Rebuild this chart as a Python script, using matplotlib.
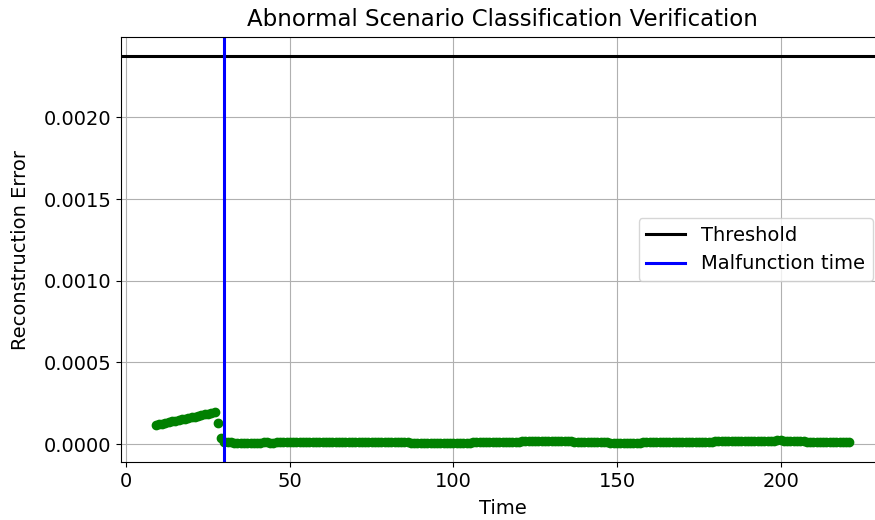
import numpy as np
from matplotlib import pyplot as plt

# time steps (one sample per time unit)
times = np.arange(9, 222)

# reconstruction error
err_before = [0.000117, 0.000121, 0.000126, 0.000130, 0.000134, 0.000139, 0.000143,
              0.000148, 0.000152, 0.000156, 0.000160, 0.000165, 0.000169, 0.000174,
              0.000178, 0.000183, 0.000187, 0.000192, 0.000196,
              0.000130, 0.000038]
err_after = [
    0.000016, 0.000013, 0.000011, 0.000010, 0.000010, 0.000009, 0.000009, 0.000009, 0.000010, 0.000010,
    0.000010, 0.000010, 0.000011, 0.000011, 0.000010, 0.000010, 0.000011, 0.000011, 0.000011, 0.000011,
    0.000011, 0.000011, 0.000011, 0.000012, 0.000012, 0.000012, 0.000012, 0.000012, 0.000012, 0.000012,
    0.000012, 0.000012, 0.000012, 0.000013, 0.000013, 0.000013, 0.000013, 0.000014, 0.000014, 0.000014,
    0.000015, 0.000015, 0.000015, 0.000016, 0.000016, 0.000016, 0.000015, 0.000015, 0.000015, 0.000014,
    0.000014, 0.000013, 0.000013, 0.000012, 0.000012, 0.000011, 0.000011, 0.000010, 0.000010, 0.000010,
    0.000009, 0.000009, 0.000009, 0.000009, 0.000009, 0.000009, 0.000009, 0.000009, 0.000009, 0.000009,
    0.000009, 0.000009, 0.000010, 0.000010, 0.000010, 0.000010, 0.000011, 0.000011, 0.000011, 0.000012,
    0.000012, 0.000012, 0.000013, 0.000013, 0.000013, 0.000014, 0.000014, 0.000015, 0.000015, 0.000016,
    0.000016, 0.000017, 0.000017, 0.000018, 0.000018, 0.000019, 0.000019, 0.000020, 0.000020, 0.000020,
    0.000021, 0.000020, 0.000020, 0.000019, 0.000019, 0.000018, 0.000017, 0.000016, 0.000015, 0.000014,
    0.000014, 0.000013, 0.000013, 0.000012, 0.000012, 0.000011, 0.000011, 0.000011, 0.000010, 0.000010,
    0.000010, 0.000010, 0.000010, 0.000010, 0.000010, 0.000010, 0.000010, 0.000010, 0.000011, 0.000011,
    0.000011, 0.000011, 0.000011, 0.000012, 0.000012, 0.000012, 0.000012, 0.000013, 0.000013, 0.000013,
    0.000013, 0.000014, 0.000014, 0.000014, 0.000015, 0.000015, 0.000015, 0.000016, 0.000016, 0.000016,
    0.000017, 0.000017, 0.000017, 0.000018, 0.000018, 0.000018, 0.000019, 0.000019, 0.000019, 0.000020,
    0.000020, 0.000020, 0.000021, 0.000021, 0.000021, 0.000022, 0.000022, 0.000022, 0.000022, 0.000023,
    0.000023, 0.000022, 0.000022, 0.000021, 0.000020, 0.000019, 0.000018, 0.000017, 0.000016, 0.000015,
    0.000015, 0.000014, 0.000014, 0.000013, 0.000013, 0.000013, 0.000012, 0.000012, 0.000012, 0.000012,
    0.000011, 0.000011]
errors = err_before + err_after

threshold = 0.002374
malfunction_time = 30

fig = plt.figure(figsize=(8.75, 5.2), dpi=100)
ax = fig.add_axes([121/875, 1 - 462/520, 763/875, 425/520])

ax.plot(times, errors, 'o', color='green', markersize=6)
ax.axhline(threshold, color='black', lw=2.2, label='Threshold')
ax.axvline(malfunction_time, color='blue', lw=2.2, label='Malfunction time')

ax.set_title('Abnormal Scenario Classification Verification', fontsize=16.5, pad=8)
ax.set_xlabel('Time', fontsize=14, labelpad=6)
ax.set_ylabel('Reconstruction Error', fontsize=14, labelpad=10)
ax.tick_params(labelsize=14)
ax.grid()
ax.legend(loc='center right', bbox_to_anchor=(0.985, 0.5), borderaxespad=0, fontsize=14)

fig.savefig('out.png', dpi=100)
